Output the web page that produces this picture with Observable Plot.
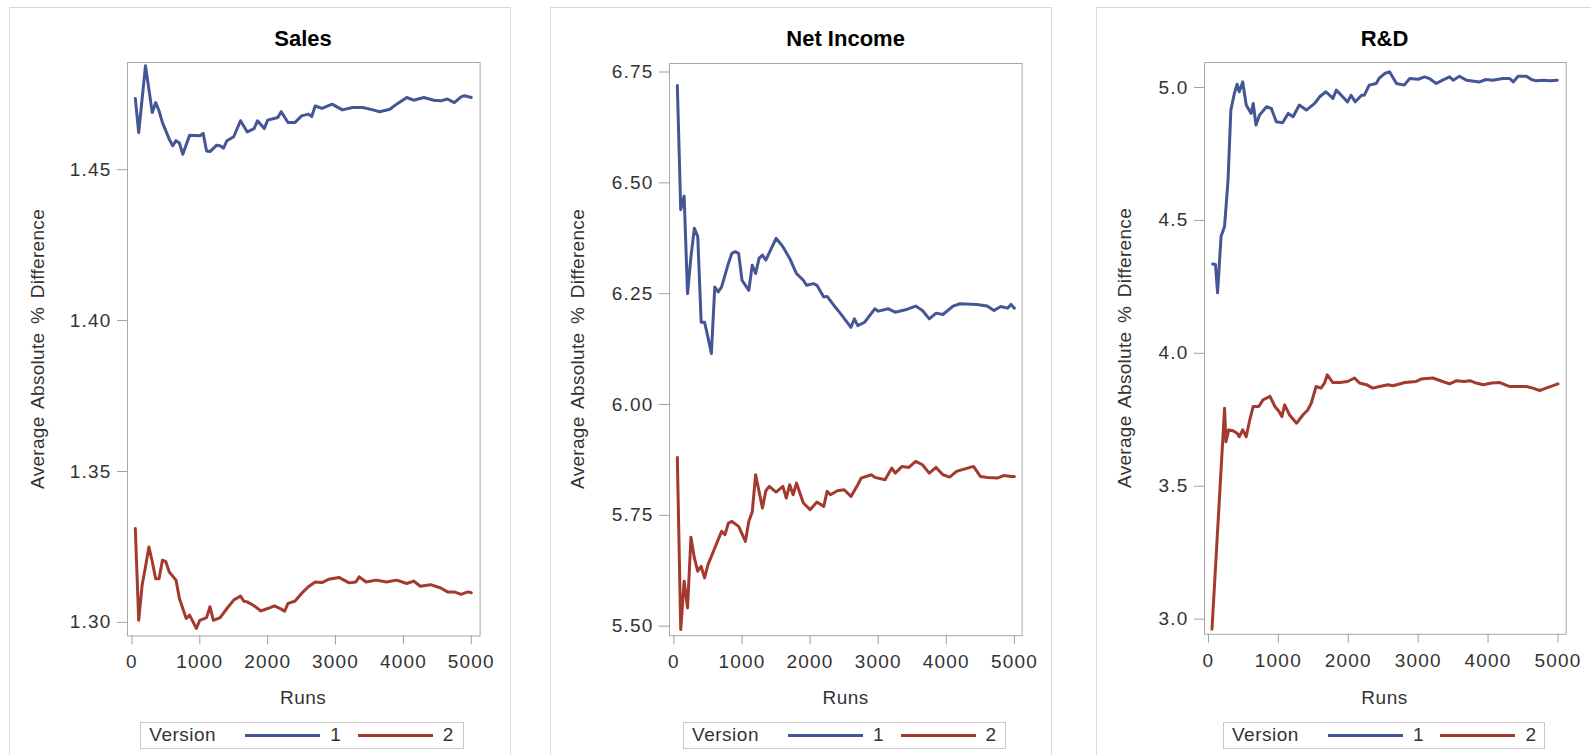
<!DOCTYPE html>
<html>
<head>
<meta charset="utf-8">
<script src="https://cdn.jsdelivr.net/npm/d3@7"></script>
<script src="https://cdn.jsdelivr.net/npm/@observablehq/plot@0.6"></script>
<style>
  html, body { margin: 0; padding: 0; background: #fff; }
  body { width: 1591px; height: 755px; overflow: hidden; position: relative;
         font-family: "Liberation Sans", Arial, sans-serif; color: #333; }
  .border { position: absolute; border: 1px solid #d6dadf; height: 900px; box-sizing: border-box; }
  .title { position: absolute; font-weight: bold; font-size: 22px; line-height: 22px; color: #000; transform: translateX(-50%); white-space: nowrap; }
  .xlabel { position: absolute; font-size: 19px; line-height: 19px; color: #333; transform: translateX(-50%); white-space: nowrap; letter-spacing: 0.5px; }
  .ylabel { position: absolute; font-size: 19px; line-height: 19px; color: #333; white-space: nowrap; word-spacing: 3px; letter-spacing: 0.3px;
            transform: translate(-50%, -50%) rotate(-90deg); }
  .legend { position: absolute; box-sizing: border-box; border: 1px solid #c9c9c9; display: flex; align-items: center;
            font-size: 19px; color: #333; background: #fff; }
  .legend .sw { display: inline-block; width: 75px; height: 3px; }
</style>
</head>
<body>
<script>
// ---------------- data ----------------
const runTicks = [0, 1000, 2000, 3000, 4000, 5000];
const salesTicks = [1.30, 1.35, 1.40, 1.45];
const netIncomeTicks = [5.50, 5.75, 6.00, 6.25, 6.50, 6.75];
const rdTicks = [3.0, 3.5, 4.0, 4.5, 5.0];
const versions = ["1", "2"];
const panelTitles = ["Sales", "Net Income", "R&D"];

// [runs, average absolute % difference]
const salesV1 = [[50,1.4736],[100,1.4623],[200,1.4844],[300,1.4689],[350,1.4722],[400,1.4695],[450,1.4656],[550,1.4601],[600,1.4579],[650,1.4596],[700,1.4588],[750,1.4551],[850,1.4614],[1000,1.4612],[1050,1.4620],[1100,1.4562],[1150,1.4560],[1250,1.4581],[1300,1.4579],[1350,1.4571],[1400,1.4596],[1500,1.4609],[1600,1.4662],[1700,1.4625],[1800,1.4636],[1850,1.4662],[1950,1.4636],[2000,1.4664],[2150,1.4673],[2200,1.4692],[2300,1.4656],[2400,1.4656],[2500,1.4678],[2600,1.4684],[2650,1.4676],[2700,1.4711],[2800,1.4703],[2950,1.4717],[3100,1.4698],[3250,1.4706],[3400,1.4706],[3550,1.4698],[3650,1.4692],[3800,1.4700],[3900,1.4717],[4050,1.4739],[4150,1.4730],[4300,1.4739],[4450,1.4730],[4550,1.4728],[4650,1.4734],[4750,1.4722],[4850,1.4741],[4900,1.4745],[5000,1.4739]];
const salesV2 = [[50,1.3311],[100,1.3007],[150,1.3123],[200,1.3184],[250,1.3250],[300,1.3201],[350,1.3145],[400,1.3145],[450,1.3206],[500,1.3201],[550,1.3167],[650,1.3140],[700,1.3079],[800,1.3013],[850,1.3024],[950,1.2980],[1000,1.3007],[1100,1.3016],[1150,1.3052],[1200,1.3007],[1300,1.3016],[1400,1.3046],[1500,1.3074],[1600,1.3087],[1650,1.3070],[1700,1.3068],[1800,1.3055],[1900,1.3038],[2000,1.3046],[2100,1.3055],[2200,1.3044],[2250,1.3037],[2300,1.3063],[2400,1.3070],[2500,1.3096],[2600,1.3118],[2700,1.3134],[2800,1.3132],[2900,1.3143],[3050,1.3149],[3200,1.3131],[3300,1.3134],[3350,1.3151],[3450,1.3134],[3600,1.3140],[3750,1.3134],[3900,1.3140],[4050,1.3129],[4150,1.3137],[4250,1.3120],[4400,1.3125],[4550,1.3114],[4650,1.3101],[4750,1.3101],[4850,1.3093],[4950,1.3101],[5000,1.3098]];
const netIncomeV1 = [[50,6.7197],[100,6.4394],[150,6.47],[200,6.25],[250,6.3333],[300,6.3977],[350,6.3788],[400,6.1856],[450,6.1856],[500,6.1515],[550,6.115],[600,6.2652],[650,6.2538],[700,6.2652],[800,6.3182],[850,6.3409],[900,6.3447],[950,6.3409],[1000,6.2803],[1100,6.2576],[1150,6.3144],[1200,6.2955],[1250,6.3295],[1300,6.3371],[1350,6.3258],[1500,6.375],[1600,6.3561],[1700,6.3295],[1800,6.2955],[1900,6.2803],[1950,6.2689],[2050,6.2727],[2100,6.2689],[2200,6.2424],[2250,6.2439],[2350,6.2235],[2450,6.2045],[2600,6.1742],[2650,6.1932],[2700,6.1780],[2800,6.1856],[2950,6.2159],[3000,6.2106],[3150,6.2159],[3250,6.2083],[3400,6.2136],[3550,6.2220],[3650,6.2121],[3750,6.1932],[3850,6.2061],[3950,6.2030],[4100,6.2220],[4200,6.2273],[4450,6.2258],[4600,6.2220],[4700,6.2121],[4800,6.2212],[4900,6.2174],[4950,6.2258],[5000,6.2174]];
const netIncomeV2 = [[50,5.8806],[100,5.4925],[150,5.6014],[200,5.5413],[250,5.7005],[300,5.6539],[350,5.6239],[400,5.6351],[450,5.6089],[500,5.6389],[600,5.6764],[650,5.6952],[700,5.7140],[750,5.7065],[800,5.7327],[850,5.7365],[950,5.7252],[1050,5.6914],[1100,5.7365],[1150,5.7575],[1200,5.8416],[1250,5.8041],[1300,5.7665],[1350,5.8056],[1400,5.8153],[1500,5.8026],[1600,5.8153],[1650,5.7890],[1700,5.8191],[1750,5.7965],[1800,5.8228],[1900,5.7778],[2000,5.7628],[2100,5.7800],[2200,5.7703],[2250,5.8041],[2300,5.7965],[2400,5.8056],[2500,5.8078],[2600,5.7928],[2700,5.8191],[2750,5.8341],[2900,5.8416],[2950,5.8356],[3100,5.8303],[3200,5.8566],[3250,5.8453],[3350,5.8604],[3450,5.8581],[3550,5.8716],[3650,5.8641],[3750,5.8453],[3850,5.8581],[3950,5.8416],[4050,5.8363],[4150,5.8491],[4400,5.8604],[4500,5.8378],[4600,5.8356],[4750,5.8341],[4850,5.8401],[4950,5.8378],[5000,5.8378]];
const rdV1 = [[60,4.336],[100,4.334],[130,4.2275],[180,4.44],[230,4.4775],[280,4.6525],[320,4.915],[370,4.9775],[410,5.0125],[440,4.984],[490,5.021],[540,4.934],[610,4.9025],[640,4.94],[680,4.859],[730,4.896],[830,4.9275],[900,4.921],[970,4.871],[1060,4.8675],[1140,4.9025],[1210,4.89],[1300,4.934],[1400,4.915],[1520,4.94],[1590,4.965],[1680,4.984],[1780,4.959],[1830,4.99],[1920,4.965],[1990,4.946],[2040,4.971],[2100,4.946],[2190,4.971],[2230,4.971],[2300,5.009],[2400,5.015],[2440,5.034],[2520,5.0525],[2590,5.059],[2690,5.015],[2800,5.009],[2880,5.034],[3000,5.031],[3090,5.04],[3160,5.034],[3260,5.015],[3350,5.0275],[3450,5.04],[3500,5.0275],[3590,5.0425],[3690,5.0275],[3880,5.021],[3970,5.03],[4070,5.0275],[4210,5.034],[4310,5.034],[4360,5.021],[4430,5.0425],[4550,5.0425],[4620,5.03],[4690,5.025],[4790,5.0275],[4880,5.025],[4990,5.0275]];
const rdV2 = [[50,2.962],[230,3.793],[250,3.667],[290,3.712],[350,3.709],[410,3.699],[440,3.686],[490,3.712],[540,3.686],[590,3.749],[640,3.80],[720,3.80],[780,3.825],[830,3.831],[880,3.838],[950,3.80],[1010,3.781],[1050,3.762],[1090,3.806],[1160,3.768],[1260,3.737],[1350,3.768],[1420,3.787],[1470,3.812],[1540,3.875],[1610,3.869],[1660,3.888],[1700,3.919],[1780,3.890],[1880,3.890],[1990,3.894],[2090,3.907],[2160,3.888],[2260,3.882],[2350,3.869],[2450,3.875],[2570,3.882],[2640,3.878],[2810,3.890],[2970,3.894],[3040,3.903],[3210,3.907],[3350,3.894],[3450,3.885],[3550,3.897],[3660,3.894],[3740,3.897],[3830,3.888],[3930,3.882],[4050,3.888],[4170,3.890],[4310,3.875],[4450,3.875],[4550,3.875],[4640,3.869],[4740,3.860],[4830,3.869],[5000,3.885]];

// ---------------- layout / style ----------------
const colors = ["#445694", "#A23A2E"];
const layout = [
  {frame: [126.8, 61.9, 479.4, 635.4], xDomain: [-65, 5130], yDomain: [1.2955, 1.4855], yTicks: salesTicks, fmt: ".2f",
   series: [salesV1, salesV2], border: [8.5, 511], legend: [140.3, 463.8], yLabelX: 37.2},
  {frame: [669.3, 63.2, 1021.9, 635.4], xDomain: [-65, 5113], yDomain: [5.4786, 6.7692], yTicks: netIncomeTicks, fmt: ".2f",
   series: [netIncomeV1, netIncomeV2], border: [550.3, 1052.3], legend: [683.1, 1006], yLabelX: 577.3},
  {frame: [1203.7, 61.9, 1565.4, 633.7], xDomain: [-57, 5118], yDomain: [2.943, 5.094], yTicks: rdTicks, fmt: ".1f",
   series: [rdV1, rdV2], border: [1096.2, 1700], legend: [1223, 1544.5], yLabelX: 1124.2}
];

const ML = 75, MR = 10, MT = 5, MB = 45;
const FONT = '"Liberation Sans", Arial, sans-serif';

function el(cls, text, css) {
  const d = document.createElement("div");
  d.className = cls;
  if (text != null) d.textContent = text;
  Object.assign(d.style, css || {});
  document.body.appendChild(d);
  return d;
}

layout.forEach((p, i) => {
  const [fl, ft, fr, fb] = p.frame;
  el("border", null, {left: p.border[0] + "px", top: "7px", width: (p.border[1] - p.border[0]) + "px"});

  const rows = [];
  p.series.forEach((s, k) => s.forEach(([run, val]) => rows.push({run, val, version: versions[k]})));

  const chart = Plot.plot({
    width: (fr - fl) + ML + MR,
    height: (fb - ft) + MT + MB,
    marginLeft: ML, marginRight: MR, marginTop: MT, marginBottom: MB,
    style: {fontFamily: FONT, fontSize: "19px", letterSpacing: "1.2px", color: "#333", background: "transparent", overflow: "visible"},
    x: {domain: p.xDomain, label: null},
    y: {domain: p.yDomain, label: null},
    color: {domain: versions, range: colors},
    marks: [
      Plot.frame({stroke: "#a8a8a8"}),
      Plot.axisX({ticks: runTicks, tickSize: 9, tickPadding: 10, label: null, stroke: "#a0a0a0", fill: "#333", fontSize: 19, tickFormat: d3.format("d")}),
      Plot.axisY({ticks: p.yTicks, tickSize: 10, tickPadding: 6, label: null, stroke: "#a0a0a0", fill: "#333", fontSize: 19, tickFormat: d3.format(p.fmt)}),
      Plot.line(rows, {x: "run", y: "val", z: "version", stroke: "version", strokeWidth: 3, strokeLinejoin: "round"})
    ]
  });
  chart.style.position = "absolute";
  chart.style.left = (fl - ML) + "px";
  chart.style.top = (ft - MT) + "px";
  document.body.appendChild(chart);

  const cx = (fl + fr) / 2;
  el("title", panelTitles[i], {left: cx + "px", top: "28px"});
  el("xlabel", "Runs", {left: cx + "px", top: "688px"});
  el("ylabel", "Average Absolute % Difference", {left: p.yLabelX + "px", top: ((ft + fb) / 2) + "px"});

  const lg = el("legend", null, {left: p.legend[0] + "px", top: "721.6px", width: (p.legend[1] - p.legend[0]) + "px", height: "27px"});
  const parts = [
    ["span", "Version", {marginLeft: "8px", letterSpacing: "0.5px"}],
    ["sw", null, {marginLeft: "29px", background: colors[0]}],
    ["span", versions[0], {marginLeft: "10px"}],
    ["sw", null, {marginLeft: "17px", background: colors[1]}],
    ["span", versions[1], {marginLeft: "10px"}]
  ];
  parts.forEach(([kind, text, css]) => {
    const s = document.createElement("span");
    if (kind === "sw") s.className = "sw";
    if (text != null) s.textContent = text;
    Object.assign(s.style, css);
    lg.appendChild(s);
  });
});
</script>
</body>
</html>
